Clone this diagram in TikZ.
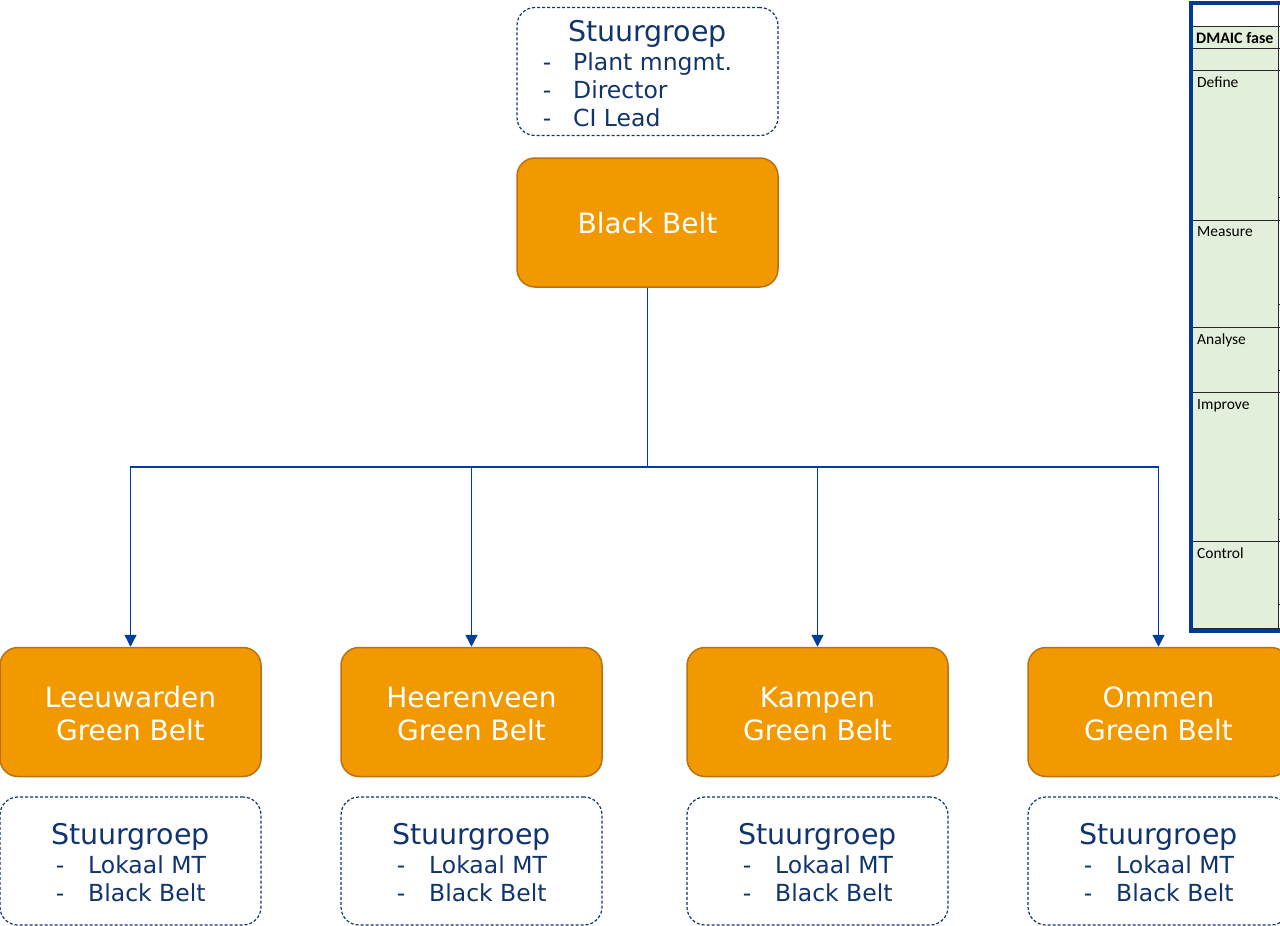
\documentclass[tikz,border=0pt]{standalone}
\usepackage{fontspec}
\setmainfont{DejaVu Sans}
\newfontfamily\tabfont{Carlito}
\usetikzlibrary{arrows.meta}
\definecolor{orangefill}{RGB}{242,153,0}
\definecolor{orangeline}{RGB}{188,112,20}
\definecolor{darkblue}{RGB}{16,52,108}
\definecolor{connblue}{RGB}{0,62,155}
\definecolor{tabblue}{RGB}{0,58,148}
\definecolor{tabgreen}{RGB}{226,239,218}
\tikzset{
  orangebox/.style={draw=orangeline, line width=1.5pt, fill=orangefill, rounded corners=18pt, minimum width=261pt, minimum height=129pt, inner sep=0pt},
  dashbox/.style={draw=darkblue, dashed, dash pattern=on 3pt off 2pt, line width=1.2pt, rounded corners=18pt, minimum width=261pt, minimum height=128pt, inner sep=0pt},
  whitetxt/.style={text=white, font=\fontsize{28}{31}\selectfont, inner sep=0pt},
  headtxt/.style={text=darkblue, font=\fontsize{28.5}{31}\selectfont, inner sep=0pt},
  itemtxt/.style={text=darkblue, font=\fontsize{23.5}{28}\selectfont, inner sep=0pt},
  conn/.style={draw=connblue, line width=1.4pt},
  arr/.style={conn, -{Triangle[width=12pt,length=12pt]}},
  tabtxt/.style={font=\tabfont\fontsize{15.5}{17}\selectfont, inner sep=0pt, anchor=base west},
  grid/.style={draw=black!85, line width=0.8pt}
}
\begin{document}
\begin{tikzpicture}[x=1pt,y=-1pt]
\useasboundingbox (0,0) rectangle (1280,926);

% top steering group
\node[dashbox] (sgtop) at (647.5,71.5) {};
\node[headtxt, anchor=base] (sgtoph) at (647.5,41) {Stuurgroep};
\node[itemtxt, anchor=base] (sgtopd1) at (547,70) {-};
\node[itemtxt, anchor=base west] (sgtopi1) at (573,70) {Plant mngmt.};
\node[itemtxt, anchor=base] (sgtopd2) at (547,98) {-};
\node[itemtxt, anchor=base west] (sgtopi2) at (573,98) {Director};
\node[itemtxt, anchor=base] (sgtopd3) at (547,126) {-};
\node[itemtxt, anchor=base west] (sgtopi3) at (573,126) {CI Lead};

% black belt
\node[orangebox] (bb) at (647.5,222.5) {};
\node[whitetxt, anchor=base] (bbt) at (647.5,233.5) {Black Belt};

% green belts
\foreach \n/\x/\city in {1/0/Leeuwarden,2/341/Heerenveen,3/687/Kampen,4/1028/Ommen}{
  \node[orangebox] (g\n) at (\x+130.5,712) {};
  \node[whitetxt, anchor=base] (g\n a) at (\x+130.5,707) {\city};
  \node[whitetxt, anchor=base] (g\n b) at (\x+130.5,740.5) {Green Belt};
  \node[dashbox] (s\n) at (\x+130.5,861) {};
  \node[headtxt, anchor=base] (s\n h) at (\x+130.5,844.5) {Stuurgroep};
  \node[itemtxt, anchor=base] (s\n d1) at (\x+60,873) {-};
  \node[itemtxt, anchor=base west] (s\n i1) at (\x+88,873) {Lokaal MT};
  \node[itemtxt, anchor=base] (s\n d2) at (\x+60,901.5) {-};
  \node[itemtxt, anchor=base west] (s\n i2) at (\x+88,901.5) {Black Belt};
}

% connectors
\draw[conn] (bb.south) -- (647.5,467) coordinate (junc);
\foreach \n in {1,2,3,4}{
  \draw[arr] (junc) -| (g\n.north);
}

% DMAIC table
\fill[white] (1192,4) rectangle (1280,26);
\fill[tabgreen] (1192,26) rectangle (1278,630);
\fill[white] (1278,26) rectangle (1280,630);
\foreach \yy in {26,48,70,220,327,392,541,628}{
  \draw[grid] (1192,\yy) -- (1280,\yy);
}
\foreach \yy in {197,304,370,519,604}{
  \draw[grid] (1278,\yy) -- (1280,\yy);
}
\draw[grid] (1278,4) -- (1278,630);
\draw[draw=tabblue, line width=4pt] (1300,3) -- (1191,3) -- (1191,631) -- (1300,631);
\node[tabtxt, font=\tabfont\bfseries\fontsize{16}{18}\selectfont] (th) at (1196,43) {DMAIC fase};
\node[tabtxt] (tdef) at (1197,87) {Define};
\node[tabtxt] (tmea) at (1197,236) {Measure};
\node[tabtxt] (tana) at (1197,344) {Analyse};
\node[tabtxt] (timp) at (1197,409) {Improve};
\node[tabtxt] (tcon) at (1197,558) {Control};
\end{tikzpicture}
\end{document}
